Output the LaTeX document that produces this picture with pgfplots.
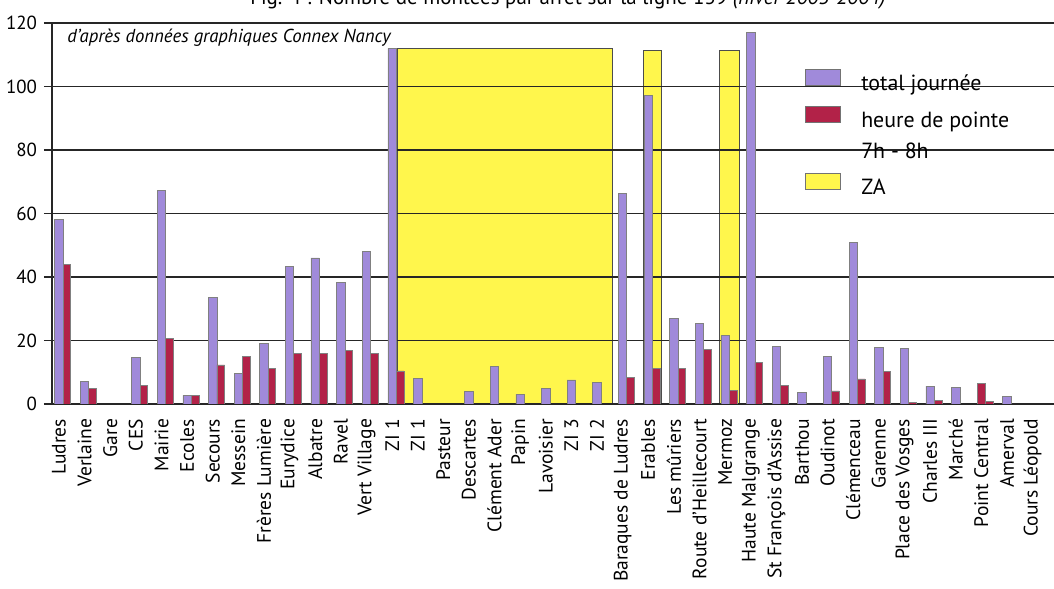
\documentclass[border=0pt]{standalone}
\usepackage{pgfplots}
\pgfplotsset{compat=1.18}
\usepackage{fontspec}
\setmainfont{PT Sans}
\definecolor{purp}{RGB}{160,138,218}
\definecolor{redb}{RGB}{178,34,72}
\definecolor{zay}{RGB}{255,246,76}
\begin{document}
\begin{tikzpicture}
\begin{axis}[
  at={(0,0)}, anchor=south west,
  x=12.81bp, y=1.5875bp,
  xmin=-0.273, xmax=38.84, ymin=0, ymax=120,
  set layers,
  axis x line=bottom, axis y line=left,
  axis line style={-, black!85, line width=0.7bp},
  ytick={0,20,...,120},
  ymajorgrids, grid style={black!85, line width=0.7bp},
  tick align=outside, major tick length=4bp,
  tick style={black!85, line width=0.7bp},
  xtick={0,...,38}, xtick style={draw=none},
  xticklabels={Ludres,Verlaine,Gare,CES,Mairie,Ecoles,Secours,Messein,Frères Lumière,Eurydice,Albatre,Ravel,Vert Village,ZI 1,ZI 1,Pasteur,Descartes,Clément Ader,Papin,Lavoisier,ZI 3,ZI 2,Baraques de Ludres,Erables,Les mûriers,Route d'Heillecourt,Mermoz,Haute Malgrange,St François d'Assise,Barthou,Oudinot,Clémenceau,Garenne,Place des Vosges,Charles III,Marché,Point Central,Amerval,Cours Léopold},
  xticklabel style={rotate=90, anchor=east, font=\fontsize{9.8}{10}\selectfont},
  yticklabel style={font=\fontsize{9.5}{10}\selectfont},
  /pgf/number format/assume math mode=true,
  legend image code/.code={\draw[#1, draw=black!55, line width=0.4bp] (0bp,0bp) rectangle (17.5bp,8bp);},
  legend cell align=left,
  legend style={at={(axis cs:29.12,105.5)}, anchor=north west, draw=none, fill=none, inner sep=0pt,
    font=\fontsize{11}{13}\selectfont, nodes={inner sep=0pt, text height=8bp, text depth=3bp},
    row sep=4.5bp, column sep=10bp},
]
% ZA zones
\addplot[fill=zay, draw=black!70, line width=0.4bp, on layer=axis background, forget plot]
  coordinates {(13.2,0) (13.2,112) (21.6,112) (21.6,0)};
\addplot[fill=zay, draw=black!70, line width=0.4bp, on layer=axis background, forget plot]
  coordinates {(22.8,0) (22.8,111.5) (23.5,111.5) (23.5,0)};
\addplot[fill=zay, draw=black!70, line width=0.4bp, on layer=axis background, forget plot]
  coordinates {(25.77,0) (25.77,111.5) (26.55,111.5) (26.55,0)};
% total journee
\addplot[ybar, bar width=4.2bp, bar shift=0bp, fill=purp, draw=black!50, line width=0.35bp, forget plot]
  coordinates {(0,58.1) (1,7.2) (3,14.7) (4,67.2) (5,2.7) (6,33.7) (7,9.6) (8,19) (9,43.3) (10,46) (11,38.4) (12,48) (13,112) (14,8) (16,4) (17,11.9) (18,3.1) (19,4.9) (20,7.6) (21,6.7) (22,66.4) (23,97.2) (24,27) (25,25.3) (26,21.5) (27,117) (28,18.1) (29,3.6) (30,15.1) (31,50.9) (32,17.7) (33,17.5) (34,5.6) (35,5.3) (37,2.4)};
% Point Central total bar drawn in red in the source
\addplot[ybar, bar width=4.2bp, bar shift=0bp, fill=redb, draw=black!50, line width=0.35bp, forget plot]
  coordinates {(36,6.5)};
% heure de pointe
\addplot[ybar, bar width=3.8bp, bar shift=4bp, fill=redb, draw=black!50, line width=0.35bp, forget plot]
  coordinates {(0,43.9) (1,4.9) (3,5.9) (4,20.6) (5,2.7) (6,12.3) (7,15) (8,11.1) (9,15.8) (10,15.9) (11,17) (12,15.8) (13,10.4) (22,8.3) (23,11.3) (24,11.3) (25,17.2) (26,4.2) (27,13.1) (28,5.8) (30,4.1) (31,7.9) (32,10.3) (33,0.5) (34,1.0) (36,0.7)};
\addlegendimage{fill=purp}
\addlegendentry{total journée}
\addlegendimage{fill=redb}
\addlegendentry{heure de pointe}
\addlegendimage{empty legend}
\addlegendentry{7h - 8h}
\addlegendimage{fill=zay}
\addlegendentry{ZA}
\node[anchor=base west, inner sep=0pt, font=\itshape\fontsize{9.4}{10}\selectfont] at (axis cs:0.312,114) {d'après données graphiques Connex Nancy};
\end{axis}
\node[anchor=base, inner sep=0pt, font=\fontsize{10.5}{12}\selectfont] at (258bp,199.5bp) {Fig. 4 : Nombre de montées par arrêt sur la ligne 139 \textit{(hiver 2003-2004)}};
\pgfresetboundingbox
\useasboundingbox (-26bp,-92.5bp) rectangle (501bp,202bp);
\end{tikzpicture}
\end{document}
